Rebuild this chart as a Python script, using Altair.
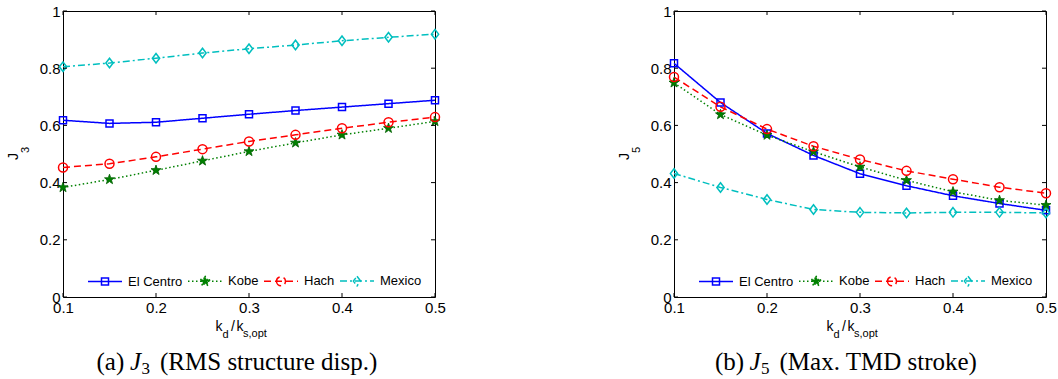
import math
import altair as alt
import pandas as pd

# ---------------- data ----------------
x_vals = [0.1, 0.15, 0.2, 0.25, 0.3, 0.35, 0.4, 0.45, 0.5]
series_names = ["El Centro", "Kobe", "Hach", "Mexico"]

j3_el_centro = [0.618, 0.607, 0.611, 0.625, 0.639, 0.652, 0.664, 0.676, 0.688]
j3_kobe = [0.383, 0.411, 0.443, 0.476, 0.509, 0.539, 0.567, 0.590, 0.614]
j3_hach = [0.453, 0.466, 0.490, 0.517, 0.544, 0.567, 0.590, 0.611, 0.629]
j3_mexico = [0.805, 0.818, 0.835, 0.853, 0.868, 0.881, 0.896, 0.908, 0.919]

j5_el_centro = [0.817, 0.680, 0.572, 0.495, 0.431, 0.389, 0.354, 0.327, 0.303]
j5_kobe = [0.749, 0.638, 0.566, 0.508, 0.455, 0.408, 0.368, 0.338, 0.321]
j5_hach = [0.769, 0.665, 0.587, 0.527, 0.481, 0.441, 0.412, 0.384, 0.363]
j5_mexico = [0.432, 0.383, 0.341, 0.306, 0.296, 0.294, 0.296, 0.296, 0.294]

x_ticks = [0.1, 0.2, 0.3, 0.4, 0.5]
y_ticks = [0, 0.2, 0.4, 0.6, 0.8, 1]

# ---------------- styles ----------------
W, H = 372, 286
colors = ["#0000ff", "#008000", "#ff0000", "#00bfbf"]
dashes = [[1, 0], [1.5, 2.5], [7, 4], [7, 3, 2, 3]]
SANS = "Liberation Sans"
SERIF = "Liberation Serif"


def star_path(r_out=1.0, r_in=0.40, scale=1.0):
    pts = []
    for i in range(10):
        ang = math.radians(-90 + 36 * i)
        r = (r_out if i % 2 == 0 else r_in) * scale
        pts.append(f"{r * math.cos(ang):.3f},{r * math.sin(ang):.3f}")
    return "M" + "L".join(pts) + "Z"


def square_path(a):
    return f"M{-a:.3f},{-a:.3f}L{a:.3f},{-a:.3f}L{a:.3f},{a:.3f}L{-a:.3f},{a:.3f}Z"


def circle_path(r):
    return (f"M{-r:.3f},0A{r:.3f},{r:.3f} 0 1,0 {r:.3f},0"
            f"A{r:.3f},{r:.3f} 0 1,0 {-r:.3f},0Z")


def diamond_path(w, h):
    return f"M0,{-h:.3f}L{w:.3f},0L0,{h:.3f}L{-w:.3f},0Z"


def dash_path(pattern, half=17.0):
    if pattern == [1, 0]:
        return "M-1,0L1,0"
    segs = []
    pos = -half
    i = 0
    while pos < half:
        L = pattern[i % len(pattern)]
        end = min(pos + L, half)
        if i % 2 == 0:
            segs.append(f"M{pos / half:.3f},0L{end / half:.3f},0")
        pos = end
        i += 1
    return "".join(segs)


HALF = 17.0
legend_paths = [
    dash_path(dashes[0]) + square_path(3.5 / HALF),
    dash_path(dashes[1]) + star_path(scale=5.5 / HALF),
    dash_path(dashes[2]) + circle_path(4.5 / HALF),
    dash_path(dashes[3]) + diamond_path(3.6 / HALF, 4.8 / HALF),
]
legend_fill = ["transparent", "#008000", "transparent", "transparent"]

marker_defs = [
    dict(shape="square", size=49, filled=False),
    dict(shape=star_path(), size=110, filled=True),
    dict(shape="circle", size=81, filled=False),
    dict(shape=diamond_path(0.77, 1.0), size=90, filled=False),
]

one = pd.DataFrame({"k": [0]})
xtick_df = pd.DataFrame({"xt": x_ticks})
ytick_df = pd.DataFrame({"yt": y_ticks})


def make_df(series_vals):
    rows = []
    for name, vals in zip(series_names, series_vals):
        for xv, yv in zip(x_vals, vals):
            rows.append({"x": xv, "y": yv, "series": name})
    return pd.DataFrame(rows)


def txt(text, x, y, size, font=SANS, angle=0, style="normal"):
    return alt.Chart(one).mark_text(
        text=text, font=font, fontSize=size, fontStyle=style, angle=angle,
        align="left", baseline="alphabetic", color="black"
    ).encode(x=alt.value(x), y=alt.value(y))


def panel(series_vals, ysub, cap_parts):
    df = make_df(series_vals)
    xscale = alt.Scale(domain=[0.1, 0.5], nice=False, zero=False)
    yscale = alt.Scale(domain=[0, 1], nice=False, zero=True)
    xaxis = alt.Axis(values=x_ticks, format=".1f", title=None, ticks=False, tickSize=0,
                     domain=False, grid=False, labelFlush=False, labelPadding=3,
                     labelFont=SANS, labelFontSize=15, labelColor="black", labelOverlap=False)
    yaxis = alt.Axis(values=y_ticks, format="~g", title=None, ticks=False, tickSize=0,
                     domain=False, grid=False, labelFlush=False, labelPadding=3,
                     labelFont=SANS, labelFontSize=15, labelColor="black", labelOverlap=False)
    leg = alt.Legend(title=None, orient="none", legendX=24, legendY=252,
                     direction="horizontal", symbolSize=(2 * HALF) ** 2,
                     symbolStrokeWidth=1.5, symbolOpacity=1,
                     labelFont=SANS, labelFontSize=13, labelColor="black",
                     labelOffset=5, columnPadding=2, padding=0)
    X = alt.X("x:Q", scale=xscale, axis=xaxis)
    Y = alt.Y("y:Q", scale=yscale, axis=yaxis)
    C = alt.Color("series:N", scale=alt.Scale(domain=series_names, range=colors), legend=leg)

    legend_carrier = alt.Chart(df).transform_filter("false").mark_point(
        filled=False, opacity=1, strokeWidth=1.5
    ).encode(
        x=X, y=Y, color=C,
        shape=alt.Shape("series:N", scale=alt.Scale(domain=series_names, range=legend_paths), legend=leg),
        fill=alt.Fill("series:N", scale=alt.Scale(domain=series_names, range=legend_fill), legend=leg),
    )

    lines = alt.Chart(df).mark_line(strokeWidth=1.5).encode(
        x=X, y=Y, color=C,
        strokeDash=alt.StrokeDash("series:N", scale=alt.Scale(domain=series_names, range=dashes), legend=None),
        detail="series:N",
    )

    layers = [legend_carrier, lines]
    for name, md, col in zip(series_names, marker_defs, colors):
        base = alt.Chart(df).transform_filter(alt.datum.series == name)
        if md["filled"]:
            layers.append(base.mark_point(
                shape=md["shape"], size=md["size"], filled=True, opacity=1,
                fill=col, stroke="#006000", strokeWidth=0.8
            ).encode(x=X, y=Y))
        else:
            layers.append(base.mark_point(
                shape=md["shape"], size=md["size"], filled=False, opacity=1, strokeWidth=1.5
            ).encode(x=X, y=Y, color=C))

    # inward tick marks on all four sides
    XT = alt.X("xt:Q", scale=xscale, axis=xaxis)
    YT = alt.Y("yt:Q", scale=yscale, axis=yaxis)
    layers += [
        alt.Chart(xtick_df).mark_rule(color="black", strokeWidth=1).encode(x=XT, y=alt.value(H), y2=alt.value(H - 4)),
        alt.Chart(xtick_df).mark_rule(color="black", strokeWidth=1).encode(x=XT, y=alt.value(0), y2=alt.value(4)),
        alt.Chart(ytick_df).mark_rule(color="black", strokeWidth=1).encode(y=YT, x=alt.value(0), x2=alt.value(4)),
        alt.Chart(ytick_df).mark_rule(color="black", strokeWidth=1).encode(y=YT, x=alt.value(W), x2=alt.value(W - 4)),
    ]

    # axis titles
    layers += [
        txt("J", -45, 149, 14, angle=270),
        txt(ysub, -34, 142, 11, angle=270),
        txt("k", 152.5, 320, 14),
        txt("d", 159.5, 327, 11),
        txt("/", 168, 320, 14),
        txt("k", 173.5, 320, 14),
        txt("s,opt", 180, 326, 11),
    ]

    # caption
    (lab, xl), (jx,), (sub, xs), (rest, xr) = cap_parts
    layers += [
        txt(lab, xl, 359, 25, font=SERIF),
        txt("J", jx, 359, 25, font=SERIF, style="italic"),
        txt(sub, xs, 362.5, 17, font=SERIF),
        txt(rest, xr, 359, 25, font=SERIF),
    ]

    return alt.layer(*layers).properties(width=W, height=H)


pa = panel([j3_el_centro, j3_kobe, j3_hach, j3_mexico], "3",
           [("(a)", 33.5), (67,), ("3", 78.5), ("(RMS structure disp.)", 97)])
pb = panel([j5_el_centro, j5_kobe, j5_hach, j5_mexico], "5",
           [("(b)", 41), (75.5,), ("5", 87), ("(Max. TMD stroke)", 105.5)])

chart = alt.hconcat(pa, pb, spacing=239, bounds="flush").resolve_scale(
    x="independent", y="independent", color="independent",
    shape="independent", fill="independent", strokeDash="independent"
).resolve_legend(
    color="independent", shape="independent", fill="independent"
).properties(
    padding={"left": 6, "top": 3, "right": 0, "bottom": 0},
    background="white",
).configure_view(stroke="black", strokeWidth=1)

chart.save("out.html", embed_options={"renderer": "svg", "actions": False})
